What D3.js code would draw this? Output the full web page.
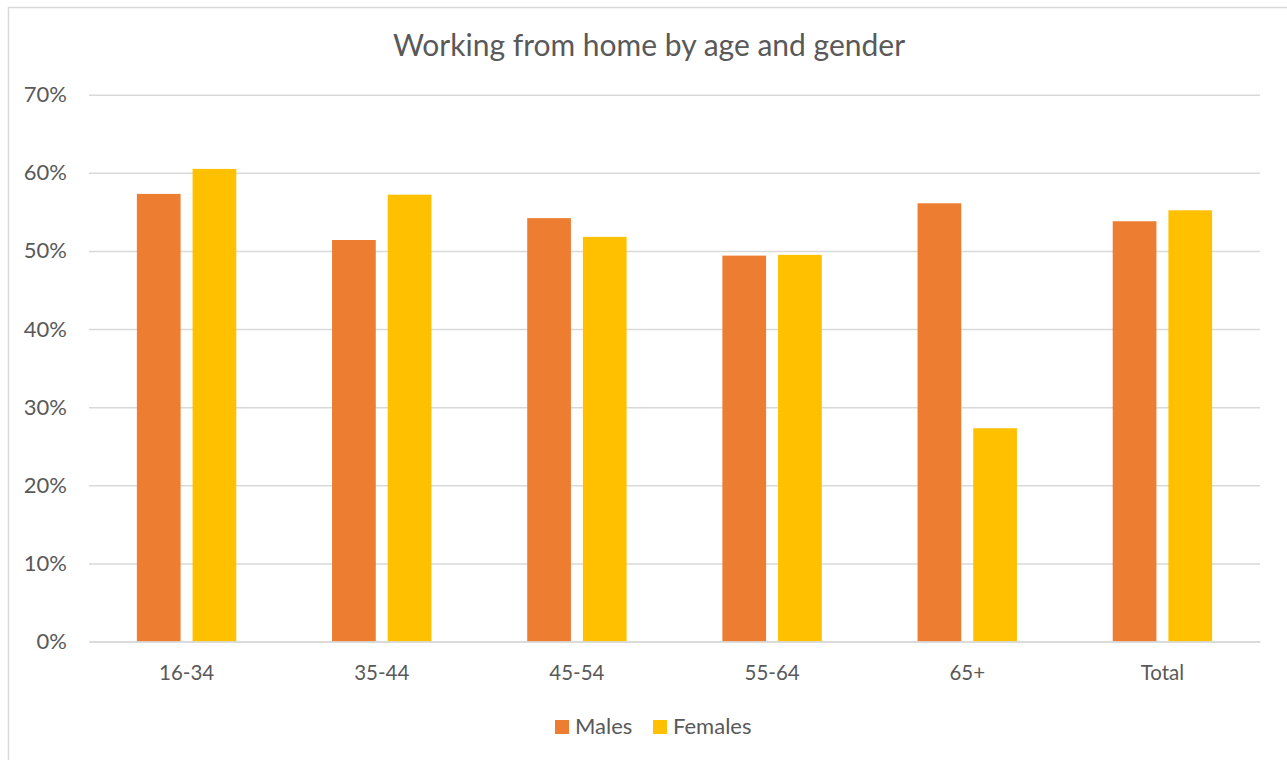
<!DOCTYPE html>
<html>
<head>
<meta charset="utf-8">
<script src="https://cdn.jsdelivr.net/npm/d3@7"></script>
<style>
  body { margin: 0; background: #fff; }
  svg { display: block; font-family: Lato, "Open Sans", sans-serif; }
</style>
</head>
<body>
<svg id="chart" width="1287" height="760"></svg>
<script>
// data
const ageGroups = ["16-34", "35-44", "45-54", "55-64", "65+", "Total"];
const seriesNames = ["Males", "Females"];
const males   = [0.573, 0.514, 0.542, 0.494, 0.561, 0.538];
const females = [0.605, 0.572, 0.518, 0.495, 0.273, 0.552];
const yTicks = [0, 0.1, 0.2, 0.3, 0.4, 0.5, 0.6, 0.7];

const colors = { Males: "#ED7D31", Females: "#FFC000" };

let chart = d3.select("#chart");
let chart_width = 1287, chart_height = 760;

// outer chart border
chart.append("rect")
    .attr("x", 8.5).attr("y", 7.5)
    .attr("width", chart_width + 20).attr("height", chart_height + 20)
    .attr("fill", "none")
    .attr("stroke", "#D9D9D9")
    .attr("stroke-width", 1.5);

// title
chart.append("text")
    .text("Working from home by age and gender")
    .attr("x", 649).attr("y", 56)
    .attr("text-anchor", "middle")
    .attr("font-size", 30)
    .attr("fill", "#595959");

let plot = { left: 89, right: 1260, top: 94.7, bottom: 641.5 };

// y scale + gridlines
let y = d3.scaleLinear().domain([0, 0.7]).range([plot.bottom, plot.top]);

let yAxis = d3.axisLeft(y)
    .tickValues(yTicks)
    .tickFormat(d3.format(".0%"))
    .tickSize(-(plot.right - plot.left))
    .tickPadding(22);

let yAxisGroup = chart.append("g")
    .attr("transform", "translate(" + plot.left + ",0)")
    .call(yAxis);
yAxisGroup.select(".domain").remove();
yAxisGroup.selectAll(".tick line")
    .attr("stroke", "#D9D9D9").attr("stroke-width", 1.5);
yAxisGroup.selectAll(".tick text")
    .attr("fill", "#595959")
    .attr("font-size", 22)
    .attr("font-family", "Lato, sans-serif");

// x scales
let x = d3.scaleBand().domain(ageGroups).range([plot.left, plot.right]).padding(0);
let xInner = d3.scaleBand().domain(seriesNames)
    .range([0, x.bandwidth()])
    .paddingOuter(0.86).paddingInner(0.215);

let rows = ageGroups.map(function (g, i) {
    return { group: g, values: [
        { key: "Males", value: males[i] },
        { key: "Females", value: females[i] }
    ]};
});

// bars
chart.append("g").selectAll("g")
    .data(rows).enter()
    .append("g")
        .attr("transform", function (d) { return "translate(" + x(d.group) + ",0)"; })
    .selectAll("rect")
    .data(function (d) { return d.values; }).enter()
    .append("rect")
        .attr("x", function (d) { return xInner(d.key); })
        .attr("y", function (d) { return y(d.value); })
        .attr("width", xInner.bandwidth())
        .attr("height", function (d) { return y(0) - y(d.value); })
        .attr("fill", function (d) { return colors[d.key]; });

// x axis baseline + labels
let xAxis = d3.axisBottom(x).tickSize(0).tickPadding(24);
let xAxisGroup = chart.append("g")
    .attr("transform", "translate(0," + plot.bottom + ")")
    .call(xAxis);
xAxisGroup.select(".domain").attr("stroke", "#D9D9D9").attr("stroke-width", 1.5);
xAxisGroup.selectAll(".tick text")
    .attr("fill", "#595959")
    .attr("font-size", 20.5)
    .attr("font-family", "Lato, sans-serif");

// legend
let legend = chart.append("g").attr("transform", "translate(555,720)");
let legendX = { Males: 0, Females: 98 };
seriesNames.forEach(function (s) {
    let item = legend.append("g").attr("transform", "translate(" + legendX[s] + ",0)");
    item.append("rect")
        .attr("width", 14).attr("height", 14)
        .attr("fill", colors[s]);
    item.append("text")
        .text(s)
        .attr("x", 20).attr("y", 14)
        .attr("font-size", 22)
        .attr("fill", "#595959");
});
</script>
</body>
</html>
